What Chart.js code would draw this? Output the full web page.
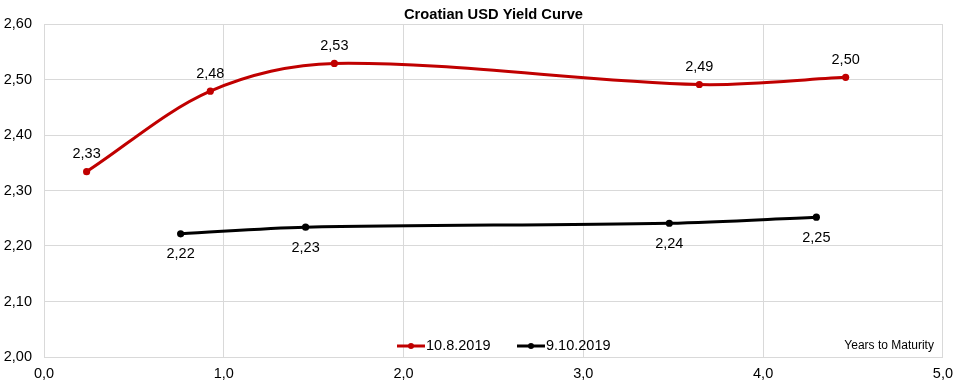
<!DOCTYPE html>
<html>
<head>
<meta charset="utf-8">
<script src="https://cdn.jsdelivr.net/npm/chart.js@4/dist/chart.umd.min.js"></script>
<style>
  html, body { margin: 0; padding: 0; background: #fff; }
  canvas { display: block; }
</style>
</head>
<body>
<canvas id="c" width="961" height="384"></canvas>
<script>
const chartTitle = 'Croatian USD Yield Curve';
const axisNote = 'Years to Maturity';
const seriesNames = ['10.8.2019', '9.10.2019'];
const seriesColors = ['#c00000', '#000000'];

const maturitiesAug = [0.237, 0.925, 1.615, 3.645, 4.459];
const yieldsAug     = [2.334, 2.479, 2.529, 2.491, 2.504];

const maturitiesOct = [0.760, 1.455, 3.478, 4.296];
const yieldsOct     = [2.222, 2.234, 2.241, 2.252];

const xTicks = [0, 1, 2, 3, 4, 5];
const yTicks = [2.0, 2.1, 2.2, 2.3, 2.4, 2.5, 2.6];

const FONT = '"Liberation Sans", Arial, sans-serif';
const comma = (v, d) => v.toFixed(d).replace('.', ',');

function pts(xs, ys) { return xs.map((x, i) => ({ x: x, y: ys[i] })); }

const labelPlugin = {
  id: 'labelsAndExtras',
  afterDatasetsDraw(chart) {
    const ctx = chart.ctx;
    const area = chart.chartArea;
    ctx.save();
    ctx.font = '14.5px ' + FONT;
    ctx.fillStyle = '#000';
    ctx.textAlign = 'center';
    ctx.textBaseline = 'middle';
    chart.data.datasets.forEach((ds, di) => {
      const meta = chart.getDatasetMeta(di);
      meta.data.forEach((el, i) => {
        const off = di === 0 ? -17.5 : 20.5;
        ctx.fillText(comma(ds.data[i].y, 2), el.x, el.y + off);
      });
    });
    ctx.font = 'bold 14.7px ' + FONT;
    ctx.fillText(chartTitle, (area.left + area.right) / 2, 15);
    ctx.font = '12px ' + FONT;
    ctx.textAlign = 'right';
    ctx.fillText(axisNote, area.right - 9, 346);
    const legendX = [397, 517];
    const ly = 346;
    chart.data.datasets.forEach((ds, di) => {
      const x0 = legendX[di];
      ctx.strokeStyle = ds.borderColor;
      ctx.lineWidth = 3;
      ctx.beginPath();
      ctx.moveTo(x0, ly);
      ctx.lineTo(x0 + 28, ly);
      ctx.stroke();
      ctx.fillStyle = ds.borderColor;
      ctx.beginPath();
      ctx.arc(x0 + 14, ly, 3, 0, Math.PI * 2);
      ctx.fill();
      ctx.fillStyle = '#000';
      ctx.font = '14.5px ' + FONT;
      ctx.textAlign = 'left';
      ctx.fillText(ds.label, x0 + 29, ly);
    });
    ctx.restore();
  }
};

new Chart(document.getElementById('c'), {
  type: 'scatter',
  data: {
    datasets: [
      {
        label: seriesNames[0],
        data: pts(maturitiesAug, yieldsAug),
        borderColor: seriesColors[0],
        backgroundColor: seriesColors[0],
        showLine: true,
        borderWidth: 3,
        tension: 0.33,
        pointRadius: 3.6,
        pointBorderWidth: 0
      },
      {
        label: seriesNames[1],
        data: pts(maturitiesOct, yieldsOct),
        borderColor: seriesColors[1],
        backgroundColor: seriesColors[1],
        showLine: true,
        borderWidth: 3,
        tension: 0.33,
        pointRadius: 3.6,
        pointBorderWidth: 0
      }
    ]
  },
  options: {
    responsive: false,
    animation: false,
    devicePixelRatio: 1,
    layout: { padding: { top: 24, right: 18, left: 0, bottom: 0 } },
    plugins: {
      legend: { display: false },
      title: { display: false },
      tooltip: { enabled: false }
    },
    scales: {
      x: {
        type: 'linear',
        min: xTicks[0],
        max: xTicks[xTicks.length - 1],
        afterFit(s) { s.height = 27; },
        afterBuildTicks(s) { s.ticks = xTicks.map(v => ({ value: v })); },
        grid: { color: '#d9d9d9', lineWidth: 1, drawTicks: false },
        border: { color: '#d9d9d9' },
        ticks: {
          color: '#000',
          font: { family: FONT, size: 14.5 },
          padding: 8,
          maxRotation: 0,
          callback: v => comma(v, 1)
        }
      },
      y: {
        type: 'linear',
        min: yTicks[0],
        max: yTicks[yTicks.length - 1],
        afterFit(s) { s.width = 44; },
        afterBuildTicks(s) { s.ticks = yTicks.map(v => ({ value: v })); },
        grid: { color: '#d9d9d9', lineWidth: 1, drawTicks: false },
        border: { color: '#d9d9d9' },
        ticks: {
          color: '#000',
          font: { family: FONT, size: 14.5 },
          padding: 12,
          callback: v => comma(v, 2)
        }
      }
    }
  },
  plugins: [labelPlugin]
});
</script>
</body>
</html>
